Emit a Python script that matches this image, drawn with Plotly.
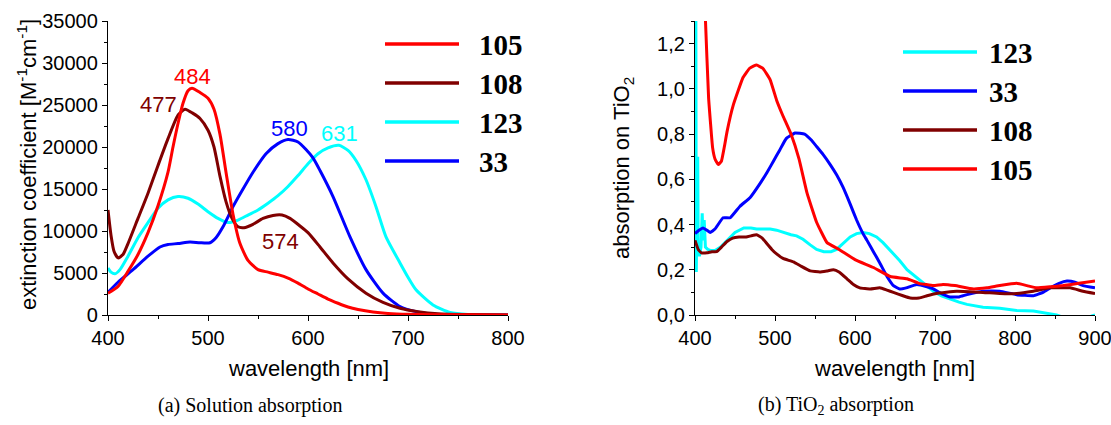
import plotly.graph_objects as go

W, H = 1111, 425

# ---------------- (a) solution absorption: extinction coefficient ----------------
wl_105 = [400, 410, 420, 430, 440, 450, 460, 465, 470, 475, 480, 484, 492, 500, 506, 512, 518, 525,
          532, 540, 550, 560, 570, 580, 590, 600, 610, 620, 630, 640, 650, 665, 680, 700, 750, 800]
eps_105 = [2600, 3400, 5200, 7200, 9800, 13000, 17000, 20000, 22800, 25200, 26700, 27000, 26500, 25800,
           24500, 21500, 17000, 12000, 8500, 6500, 5400, 5100, 4800, 4400, 3800, 3100, 2500, 1900, 1400,
           950, 650, 350, 180, 80, 20, 0]

wl_108 = [400, 403, 406, 410, 415, 420, 430, 440, 450, 460, 470, 477, 485, 492, 500, 506, 512, 518, 524,
          530, 536, 545, 555, 565, 574, 582, 592, 600, 612, 625, 640, 658, 675, 692, 710, 730, 760, 800]
eps_108 = [12500, 9500, 7600, 6800, 7200, 8500, 11500, 14500, 17800, 21000, 23800, 24500, 24000, 23400,
           22000, 20000, 16500, 13500, 11500, 10500, 10400, 10800, 11500, 11850, 11900, 11500, 10600,
           9800, 8100, 6200, 4300, 2600, 1500, 800, 400, 150, 50, 0]

wl_123 = [400, 403, 407, 412, 420, 430, 440, 450, 460, 470, 480, 490, 500, 510, 520, 530, 540, 550, 560,
          570, 580, 590, 600, 610, 620, 631, 640, 648, 658, 668, 678, 692, 700, 708, 725, 742, 760, 800]
eps_123 = [5600, 5100, 4900, 5400, 7000, 9200, 11000, 12700, 13700, 14100, 13900, 13200, 12300, 11500,
           11000, 11300, 11900, 12500, 13300, 14200, 15300, 16600, 18000, 19200, 19900, 20200, 19600,
           18400, 16100, 12900, 9300, 6200, 4500, 3000, 1200, 300, 50, 0]

wl_33 = [400, 410, 425, 440, 452, 460, 470, 482, 492, 502, 508, 515, 525, 535, 545, 558, 570, 580, 590,
         598, 605, 612, 625, 642, 658, 675, 692, 708, 725, 760, 800]
eps_33 = [2700, 3900, 5400, 7000, 8100, 8400, 8500, 8700, 8600, 8600, 9200, 10500, 12900, 15000, 17000,
          19200, 20400, 20900, 20600, 19700, 18700, 17200, 14100, 9300, 5400, 2600, 1000, 400, 100, 0, 0]

# band maxima marked on panel (a): (dye, wavelength, label x, label y)
peak_labels = [("105", 484, 484, 28350), ("108", 477, 450, 25100), ("33", 580, 581, 22250),
               ("123", 631, 631, 21650), ("108", 574, 572, 8700)]

# ---------------- (b) absorption of the dyes adsorbed on TiO2 ----------------
wl_t123 = [401, 401.6, 402.5, 403.4, 404, 405.5, 407.5, 409, 410, 411.5, 413, 416, 420, 425, 432, 440,
           450, 461, 470, 477, 485, 494, 502, 510, 520, 527, 535, 544, 552, 561, 570, 577, 585, 594, 602,
           610, 618, 627, 635, 644, 656, 665, 677, 688, 698, 708, 719, 730, 740, 760, 781, 802, 823, 844,
           852, 860, 880, 895, 900]
abs_t123 = [1.5, 0.19, 0.50, 0.70, 0.30, 0.26, 0.30, 0.45, 0.33, 0.42, 0.30, 0.29, 0.285, 0.285, 0.30,
            0.33, 0.365, 0.385, 0.385, 0.38, 0.38, 0.38, 0.375, 0.365, 0.355, 0.35, 0.335, 0.31, 0.29,
            0.28, 0.28, 0.29, 0.315, 0.345, 0.36, 0.365, 0.36, 0.345, 0.32, 0.285, 0.24, 0.20, 0.165,
            0.13, 0.105, 0.085, 0.07, 0.057, 0.047, 0.034, 0.03, 0.02, 0.018, 0.007, 0.0, -0.01, -0.015,
            -0.005, 0.0]

wl_t33 = [400, 405, 410, 415, 419, 425, 435, 444, 456, 469, 481, 490, 498, 506, 514, 525, 537, 545, 552,
          560, 569, 577, 585, 594, 602, 610, 615, 623, 631, 640, 648, 656, 664, 677, 690, 698, 708, 719,
          730, 740, 760, 781, 802, 823, 835, 844, 855, 865, 875, 885, 900]
abs_t33 = [0.36, 0.375, 0.385, 0.375, 0.365, 0.38, 0.43, 0.43, 0.48, 0.52, 0.58, 0.63, 0.68, 0.73, 0.78,
           0.805, 0.80, 0.775, 0.745, 0.71, 0.665, 0.62, 0.565, 0.49, 0.42, 0.36, 0.33, 0.28, 0.23, 0.17,
           0.13, 0.115, 0.12, 0.135, 0.125, 0.115, 0.095, 0.08, 0.08, 0.09, 0.105, 0.105, 0.09, 0.085,
           0.10, 0.12, 0.14, 0.15, 0.145, 0.13, 0.12]

wl_t108 = [400, 404, 408, 415, 421, 427, 433, 440, 447, 455, 464, 470, 477, 484, 490, 496, 502, 510, 523,
           533, 544, 556, 565, 573, 580, 590, 598, 606, 619, 631, 640, 648, 660, 669, 680, 690, 702, 727,
           760, 781, 802, 823, 844, 869, 885, 900]
abs_t108 = [0.33, 0.29, 0.275, 0.275, 0.28, 0.28, 0.30, 0.325, 0.34, 0.345, 0.345, 0.35, 0.355, 0.34,
            0.315, 0.29, 0.27, 0.25, 0.235, 0.215, 0.195, 0.19, 0.195, 0.20, 0.19, 0.16, 0.135, 0.12,
            0.115, 0.12, 0.11, 0.10, 0.085, 0.075, 0.075, 0.085, 0.095, 0.105, 0.10, 0.095, 0.095, 0.105,
            0.12, 0.12, 0.105, 0.095]

wl_t105 = [403, 410, 413, 417, 422, 425, 429, 433, 437, 440, 448, 460, 468, 473, 477, 485, 494, 502,
           510, 520, 530, 540, 552, 565, 580, 600, 623, 644, 665, 680, 698, 710, 725, 748, 765, 781, 802,
           815, 827, 845, 860, 880, 900]
abs_t105 = [2.0, 1.6, 1.31, 0.96, 0.74, 0.69, 0.665, 0.68, 0.75, 0.81, 0.93, 1.05, 1.09, 1.10, 1.105,
            1.09, 1.04, 0.95, 0.88, 0.80, 0.69, 0.54, 0.41, 0.32, 0.29, 0.245, 0.21, 0.17, 0.16, 0.14,
            0.13, 0.135, 0.13, 0.115, 0.12, 0.13, 0.14, 0.13, 0.12, 0.125, 0.13, 0.14, 0.15]

colors = {"105": "#FF0000", "108": "#800000", "123": "#00FFFF", "33": "#0000FF"}
legend_a = ["105", "108", "123", "33"]
legend_b = ["123", "33", "108", "105"]

SANS = "Liberation Sans, Arial, sans-serif"
SERIF = "Liberation Serif, Times New Roman, serif"

fig = go.Figure()

series_a = {"105": (wl_105, eps_105), "108": (wl_108, eps_108),
            "123": (wl_123, eps_123), "33": (wl_33, eps_33)}
for name in ["123", "33", "108", "105"]:
    x, y = series_a[name]
    fig.add_trace(go.Scatter(x=x, y=y, mode="lines", name=name, xaxis="x", yaxis="y",
                             line=dict(color=colors[name], width=3, shape="spline", smoothing=0.6),
                             showlegend=False))

series_b = {"123": (wl_t123, abs_t123), "33": (wl_t33, abs_t33),
            "108": (wl_t108, abs_t108), "105": (wl_t105, abs_t105)}
for name in ["123", "33", "108", "105"]:
    x, y = series_b[name]
    shape = dict(color=colors[name], width=3, shape="spline", smoothing=0.3)
    if name == "123":
        # the short-wavelength spikes are kept sharp
        shape = dict(color=colors[name], width=3, shape="linear")
    fig.add_trace(go.Scatter(x=x, y=y, mode="lines", name=name, xaxis="x2", yaxis="y2",
                             line=shape, showlegend=False))

# plot areas in pixels
ax_a = (108, 508)
ax_b = (695, 1095)
top_px, bot_px = 21, 315


def px_x(p):
    return p / W


def px_y(p):
    return 1 - p / H


tick_font = dict(family=SANS, size=20, color="black")
common = dict(showline=True, linecolor="black", linewidth=1.3, ticks="outside", ticklen=5,
              tickwidth=1.2, tickcolor="black", showgrid=False, zeroline=False, tickfont=tick_font,
              mirror=False, automargin=False, ticklabeloverflow="allow")

fig.update_layout(
    template="none",
    width=W, height=H, margin=dict(l=0, r=0, t=0, b=0, pad=0, autoexpand=False),
    paper_bgcolor="white", plot_bgcolor="white", separators=",.",
    xaxis=dict(domain=[px_x(ax_a[0]), px_x(ax_a[1])], range=[400, 800], dtick=100, tick0=400,
               anchor="y", minor=dict(ticks="outside", ticklen=3, dtick=50, tickcolor="black"),
               **common),
    yaxis=dict(domain=[px_y(bot_px), px_y(top_px)], range=[0, 35000], dtick=5000, tickformat="d",
               anchor="x", minor=dict(ticks="outside", ticklen=3, dtick=2500, tickcolor="black"),
               **common),
    xaxis2=dict(domain=[px_x(ax_b[0]), px_x(ax_b[1])], range=[400, 900], dtick=100, tick0=400,
                anchor="y2", minor=dict(ticks="outside", ticklen=3, dtick=50, tickcolor="black"),
                **common),
    yaxis2=dict(domain=[px_y(bot_px), px_y(top_px)], range=[0, 1.3], dtick=0.2, tickformat=".1f",
                anchor="x2", minor=dict(ticks="outside", ticklen=3, dtick=0.1, tickcolor="black"),
                **common),
)

ann = []
title_font = dict(family=SANS, size=22, color="black")
ann.append(dict(text="extinction coefficient [M<sup>-1</sup>cm<sup>-1</sup>]", x=px_x(27),
                y=px_y(165), xref="paper", yref="paper", showarrow=False, textangle=-90,
                font=title_font, xanchor="center", yanchor="middle"))
ann.append(dict(text="wavelength [nm]", x=px_x(308), y=px_y(368), xref="paper", yref="paper",
                showarrow=False, font=title_font, xanchor="center", yanchor="middle"))
ann.append(dict(text="absorption on TiO<sub>2</sub>", x=px_x(623), y=px_y(168), xref="paper",
                yref="paper", showarrow=False, textangle=-90, font=title_font,
                xanchor="center", yanchor="middle"))
ann.append(dict(text="wavelength [nm]", x=px_x(895), y=px_y(368), xref="paper", yref="paper",
                showarrow=False, font=title_font, xanchor="center", yanchor="middle"))

cap_font = dict(family=SERIF, size=20, color="black")
ann.append(dict(text="(a) Solution absorption", x=px_x(250), y=px_y(405), xref="paper",
                yref="paper", showarrow=False, font=cap_font, xanchor="center", yanchor="middle"))
ann.append(dict(text="(b) TiO<sub>2</sub> absorption", x=px_x(836), y=px_y(405), xref="paper",
                yref="paper", showarrow=False, font=cap_font, xanchor="center", yanchor="middle"))

for dye, wl, lx, ly in peak_labels:
    ann.append(dict(text=str(wl), x=lx, y=ly, xref="x", yref="y", showarrow=False,
                    font=dict(family=SANS, size=22, color=colors[dye]),
                    xanchor="center", yanchor="middle"))

shapes = []
leg_font = dict(family=SERIF, size=29, color="black")


def add_legend(names, x0, x1, xt, y0, step):
    for i, name in enumerate(names):
        yy = y0 + i * step
        shapes.append(dict(type="line", xref="paper", yref="paper", x0=px_x(x0), x1=px_x(x1),
                           y0=px_y(yy), y1=px_y(yy), line=dict(color=colors[name], width=3.5)))
        ann.append(dict(text="<b>%s</b>" % name, x=px_x(xt), y=px_y(yy + 1), xref="paper",
                        yref="paper", showarrow=False, font=leg_font, xanchor="left",
                        yanchor="middle"))


add_legend(legend_a, 385, 459, 477, 44, 39)
add_legend(legend_b, 903, 977, 987, 52, 39)

fig.update_layout(annotations=ann, shapes=shapes)
fig.write_html("out.html")
